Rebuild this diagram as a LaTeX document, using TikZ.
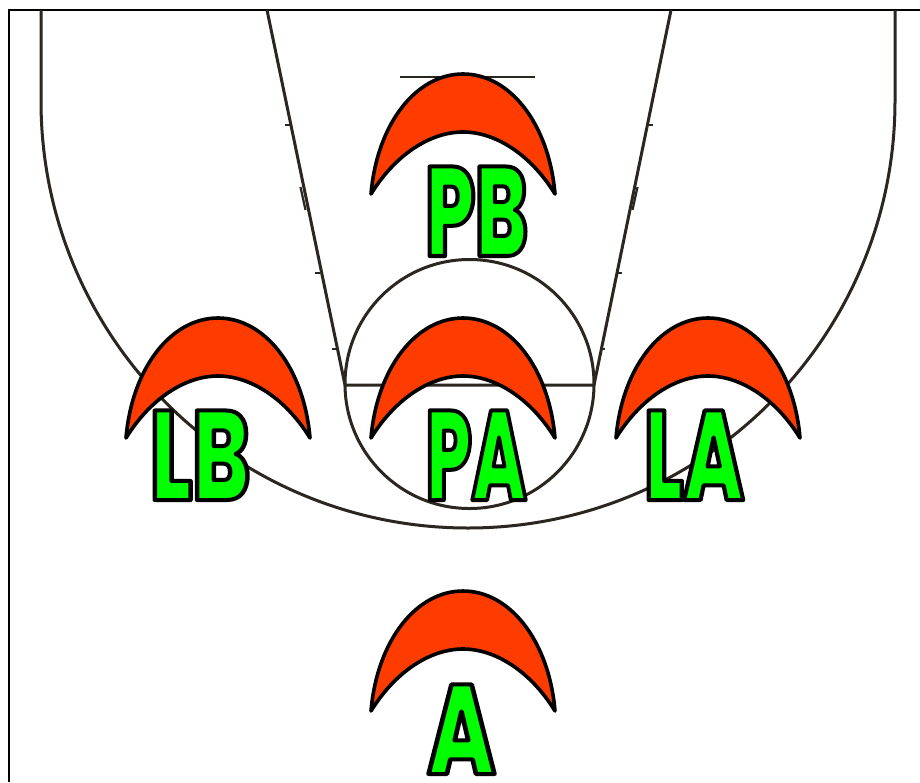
\documentclass[tikz,border=0pt]{standalone}
\usepackage{fontspec}
\newfontfamily\playerfontb[FakeStretch=0.6]{Poppins ExtraBold}
\definecolor{court}{HTML}{2B2620}
\definecolor{capfill}{HTML}{FF3C00}
\newcommand{\outlined}[1]{\special{pdf:code q 2 Tr 4 w 1 J 1 j 0 0 0 RG 0 1 0 rg}#1\special{pdf:code 0 Tr Q}}
\tikzset{
  courtline/.style={draw=court,line width=3pt},
  markline/.style={draw=court,line width=1.8pt},
  framel/.style={draw=black,line width=2.4pt},
  cap/.pic={\path[draw=black,fill=capfill,line width=3.6pt,line join=round]
     (371,194) .. controls (377,124) and (416,74) .. (463,74)
     .. controls (510,74) and (549,124) .. (555,194)
     .. controls (531,155) and (496,132) .. (463,132)
     .. controls (430,132) and (395,155) .. (371,194) -- cycle;},
  playerlabel/.style={inner sep=0pt,anchor=base,transform shape,font=\playerfontb\fontsize{127}{127}\selectfont},
}
\begin{document}
\begin{tikzpicture}[x=1pt,y=-1pt]
\useasboundingbox (0,0) rectangle (920,782);
\path[fill=white] (0,0) rectangle (920,782);
\draw[framel] (9,782) -- (9,10) -- (920,10);
% court
\draw[courtline] (41,10) -- (41,101) arc[start angle=180,end angle=360,radius=427,y radius=-427] -- (895,10);
\draw[courtline] (267,10) -- (345,385) -- (594,385) -- (671,10);
\draw[courtline] (469.5,384) circle[radius=124.5];
\draw[markline] (400,77) -- (535,77);
\draw[markline] (285,125) -- (290,125) (315,273) -- (320,273) (332,349) -- (336,349);
\draw[markline] (648,125) -- (653,125) (617,273) -- (622,273) (601,349) -- (605,349);
\draw[markline,line width=2.2pt] (300.5,187) -- (305.5,210) (637.5,187) -- (632.5,210);
% players
\pic at (0,0) {cap};
\pic at (0,244) {cap};
\pic at (-245,244) {cap};
\pic at (245,244) {cap};
\pic at (0,517) {cap};
\node[playerlabel,xscale=1.03] (pb) at (476.5,256) {\outlined{PB}};
\node[playerlabel,xscale=0.95] (pa) at (476,500) {\outlined{PA}};
\node[playerlabel,xscale=1.13] (lb) at (200,500) {\outlined{LB}};
\node[playerlabel,xscale=1.05] (la) at (694,500) {\outlined{LA}};
\node[playerlabel,xscale=1.17] (a) at (461.5,774) {\outlined{A}};
\end{tikzpicture}
\end{document}
